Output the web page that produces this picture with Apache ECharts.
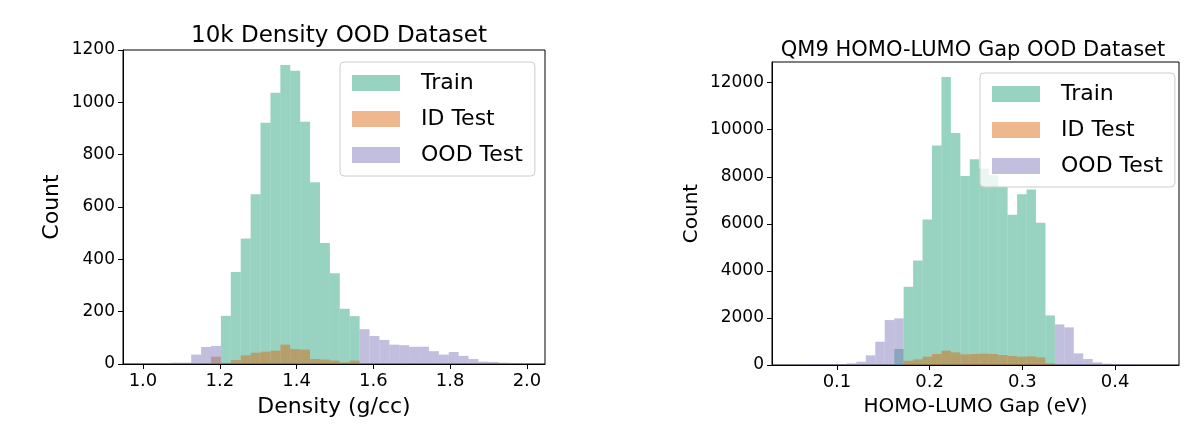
<!DOCTYPE html>
<html><head><meta charset="utf-8">
<script src="https://cdn.jsdelivr.net/npm/echarts@6/dist/echarts.min.js"></script>
<style>html,body{margin:0;background:#fff}#c{width:1200px;height:436px}</style>
</head><body><div id="c"></div>
<script>
// 左图：密度直方图（分箱起点 + 宽度）
const densityStart = 1.0224, densityWidth = 0.0258;
const densityTrain = [0,0,0,0,0,0,0,184,352,480,649,922,1037,1143,1121,926,695,462,347,211,183];
const densityID = [0,0,0,0,0,0,28,4,15,33,43,47,51,74,57,55,19,17,13,6,13];
const densityOOD = [3,0,5,5,36,65,69,0,0,0,0,0,0,0,0,0,0,0,0,0,0,133,107,92,74,72,66,66,49,36,46,31,19,9,8,5,3];
const densityTicks = [1.0, 1.2, 1.4, 1.6, 1.8, 2.0];

// 右图：HOMO-LUMO gap 直方图
const gapStart = 0.0699, gapWidth = 0.0102;
const gapTrain = [0,0,0,0,0,0,0,0,0,679,3325,4443,6184,9325,12240,9863,8037,8745,8349,8066,7570,6382,7259,7457,6042,2108];
const gapID = [0,0,0,0,0,0,0,0,0,0,184,240,354,467,608,538,453,467,481,467,424,382,354,368,325,70];
const gapOOD = [28,28,28,42,70,141,410,990,1910,1981,0,0,0,0,0,0,0,0,0,0,0,0,0,0,0,0,1726,1599,495,255,113,57,28,14,14];
const gapTicks = [0.1, 0.2, 0.3, 0.4];

const colors = ['#1b9e77', '#d95f02', '#7570b3'];
const names = ['Train', 'ID Test', 'OOD Test'];
const font = 'DejaVu Sans';

function histSeries(name, color, start, width, counts, idx) {
    var data = [];
    for (var i = 0; i < counts.length; i++) {
        if (counts[i] > 0) data.push([start + i * width, start + (i + 1) * width, counts[i]]);
    }
    return {
        name: name, type: 'custom', xAxisIndex: idx, yAxisIndex: idx,
        itemStyle: {color: color, opacity: 0.45},
        data: data,
        renderItem: function (params, api) {
            var p0 = api.coord([api.value(0), api.value(2)]);
            var p1 = api.coord([api.value(1), 0]);
            return {type: 'rect', shape: {x: p0[0], y: p0[1], width: p1[0] - p0[0], height: p1[1] - p0[1]},
                style: {fill: color, opacity: 0.45}};
        }
    };
}

function xAxis(idx, min, max, ticks, name, nameSize) {
    return {
        type: 'value', gridIndex: idx, min: min, max: max, name: name,
        nameLocation: 'middle', nameGap: 32, nameTextStyle: {fontSize: nameSize, color: '#000', fontFamily: font},
        splitLine: {show: false},
        axisLine: {lineStyle: {color: '#000'}},
        axisTick: {customValues: ticks, length: 5, lineStyle: {color: '#000'}},
        axisLabel: {customValues: ticks, fontSize: 18, color: '#000', fontFamily: font,
            formatter: function (v) { return v.toFixed(1); }}
    };
}

function yAxis(idx, max, interval, name, gap, nameSize) {
    return {
        type: 'value', gridIndex: idx, min: 0, max: max, interval: interval, name: name,
        nameLocation: 'middle', nameGap: gap, nameTextStyle: {fontSize: nameSize, color: '#000', fontFamily: font},
        splitLine: {show: false},
        axisLine: {show: true, lineStyle: {color: '#000'}},
        axisTick: {show: true, length: 5, lineStyle: {color: '#000'}},
        axisLabel: {fontSize: 17, color: '#000', fontFamily: font, showMaxLabel: max % interval === 0,
            formatter: function (v) { return String(v); }}
    };
}

function legend(left, top) {
    return {
        left: left, top: top, orient: 'vertical', itemWidth: 48, itemHeight: 16, itemGap: 14,
        padding: [10, 12], backgroundColor: 'rgba(255,255,255,0.8)', borderColor: '#ccc', borderWidth: 1, borderRadius: 4,
        selectedMode: false, icon: 'rect',
        textStyle: {fontSize: 22, color: '#000', fontFamily: font, padding: [0, 0, 0, 16]},
        data: names.map(function (n, i) { return {name: n, itemStyle: {color: colors[i], opacity: 0.45}}; })
    };
}

var chart = echarts.init(document.getElementById('c'));
chart.setOption({
    animation: false,
    title: [
        {text: '10k Density OOD Dataset', left: 334, top: 20, textAlign: 'center', textStyle: {fontSize: 23, fontWeight: 'normal', color: '#000', fontFamily: font}},
        {text: 'QM9 HOMO-LUMO Gap OOD Dataset', left: 968, top: 35, textAlign: 'center', textStyle: {fontSize: 21, fontWeight: 'normal', color: '#000', fontFamily: font}}
    ],
    legend: [legend(340, 62), legend(980, 73)],
    grid: [
        {left: 123, right: 655, top: 50, bottom: 72, show: true, borderColor: '#000', borderWidth: 1},
        {left: 772, right: 21, top: 62, bottom: 71, show: true, borderColor: '#000', borderWidth: 1}
    ],
    xAxis: [
        xAxis(0, 0.948, 2.047, densityTicks, 'Density (g/cc)', 22),
        xAxis(1, 0.0299, 0.469, gapTicks, 'HOMO-LUMO Gap (eV)', 20)
    ],
    yAxis: [
        yAxis(0, 1200, 200, 'Count', 60, 22),
        yAxis(1, 12877, 2000, 'Count', 70, 20)
    ],
    series: [
        histSeries(names[0], colors[0], densityStart, densityWidth, densityTrain, 0),
        histSeries(names[1], colors[1], densityStart, densityWidth, densityID, 0),
        histSeries(names[2], colors[2], densityStart, densityWidth, densityOOD, 0),
        histSeries(names[0], colors[0], gapStart, gapWidth, gapTrain, 1),
        histSeries(names[1], colors[1], gapStart, gapWidth, gapID, 1),
        histSeries(names[2], colors[2], gapStart, gapWidth, gapOOD, 1)
    ]
});
</script>
</body></html>
